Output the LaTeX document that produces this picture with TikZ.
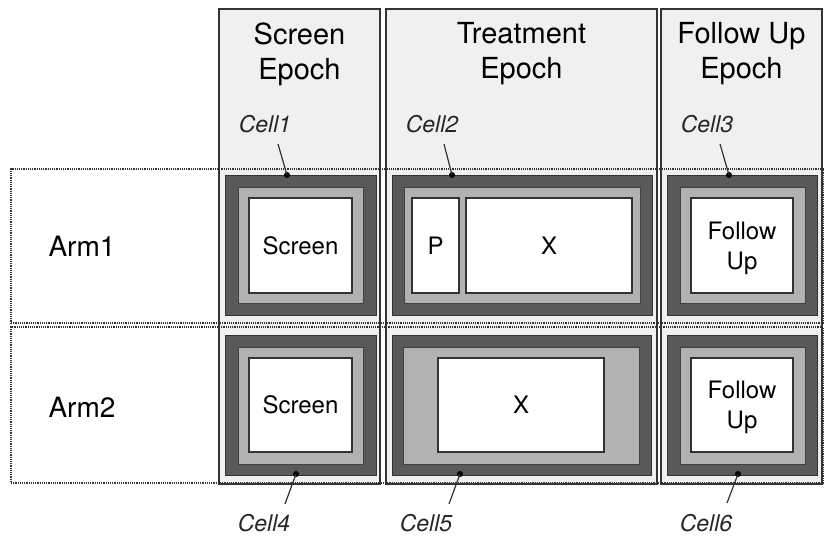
\documentclass[tikz,border=0pt]{standalone}
\usepackage{fontspec}
\setmainfont{TeX Gyre Heros}
\begin{document}
\begin{tikzpicture}[x=1pt,y=-1pt,
  epochbox/.style={draw=black!80,line width=1.3pt,fill=black!6,inner sep=0pt},
  armbox/.style={draw=black!80,line width=1.3pt,dash pattern=on 1.2pt off 1pt,inner sep=0pt},
  darkbox/.style={draw=black!80,line width=0.8pt,fill=black!65,inner sep=0pt},
  lightbox/.style={draw=black!75,line width=0.8pt,fill=black!30,inner sep=0pt},
  whitebox/.style={draw=black!80,line width=1.2pt,fill=white,inner sep=0pt,align=center,font=\fontsize{24}{30}\selectfont},
  boxtext/.style={inner sep=0pt,align=center,font=\fontsize{24}{30}\selectfont},
  title/.style={align=center,font=\fontsize{29}{35}\selectfont},
  armlabel/.style={font=\fontsize{28}{32}\selectfont,anchor=west},
  celllabel/.style={font=\fontsize{23}{28}\selectfont\itshape,text=black!85},
  dotmark/.style={circle,fill=black,inner sep=0pt,minimum size=6pt},
  leader/.style={draw=black!80,line width=1.2pt}
]
\useasboundingbox (0,0) rectangle (832,539);
% epochs
\node[epochbox,minimum width=161pt,minimum height=475pt] (ep1) at (299.5,246.5) {};
\node[epochbox,minimum width=271pt,minimum height=475pt] (ep2) at (521.5,246.5) {};
\node[epochbox,minimum width=161pt,minimum height=475pt] (ep3) at (741.5,246.5) {};
\node[title] (t1) at (299.5,54) {Screen\\Epoch};
\node[title] (t2) at (521.5,54) {Treatment\\Epoch};
\node[title] (t3) at (741.5,54) {Follow Up\\Epoch};
% arms
\node[armbox,minimum width=812pt,minimum height=154pt] (arm1) at (417,246) {};
\node[armbox,minimum width=812pt,minimum height=156pt] (arm2) at (417,405) {};
\node[armlabel] (a1) at (45,246) {Arm1};
\node[armlabel] (a2) at (45,407) {Arm2};
% cell 1
\node[darkbox,minimum width=151pt,minimum height=140pt] (c1) at (300.5,245) {};
\node[lightbox,minimum width=125pt,minimum height=116pt] (l1) at (300.5,245) {};
\node[whitebox,minimum width=103pt,minimum height=95pt] (w1) at (300.5,245.5) {Screen};
% cell 2
\node[darkbox,minimum width=260pt,minimum height=140pt] (c2) at (522,245) {};
\node[lightbox,minimum width=236pt,minimum height=116pt] (l2) at (522,245) {};
\node[whitebox,minimum width=47pt,minimum height=95pt] (w2p) at (435.5,245.5) {P};
\node[whitebox,minimum width=166pt,minimum height=95pt] (w2x) at (549,245.5) {X};
% cell 3
\node[darkbox,minimum width=150pt,minimum height=140pt] (c3) at (742,245) {};
\node[lightbox,minimum width=125pt,minimum height=116pt] (l3) at (742.5,245) {};
\node[whitebox,minimum width=102pt,minimum height=95pt] (w3) at (742,245.5) {};
\node[boxtext] (w3t) at (742,248) {Follow\\Up};
% cell 4
\node[darkbox,minimum width=151pt,minimum height=140pt] (c4) at (300.5,405) {};
\node[lightbox,minimum width=125pt,minimum height=117pt] (l4) at (300.5,405.5) {};
\node[whitebox,minimum width=103pt,minimum height=94pt] (w4) at (300.5,405) {Screen};
% cell 5
\node[darkbox,minimum width=259pt,minimum height=140pt] (c5) at (521.5,405) {};
\node[lightbox,minimum width=236pt,minimum height=117pt] (l5) at (521,405.5) {};
\node[whitebox,minimum width=166pt,minimum height=94pt] (w5) at (521,405) {X};
% cell 6
\node[darkbox,minimum width=150pt,minimum height=140pt] (c6) at (742,405) {};
\node[lightbox,minimum width=125pt,minimum height=117pt] (l6) at (742.5,405.5) {};
\node[whitebox,minimum width=102pt,minimum height=94pt] (w6) at (742,405) {};
\node[boxtext] (w6t) at (742,407.5) {Follow\\Up};
% labels
\node[celllabel] (n1) at (265,124) {Cell1};
\node[celllabel] (n2) at (432,124) {Cell2};
\node[celllabel] (n3) at (707,124) {Cell3};
\node[celllabel] (n4) at (264,523) {Cell4};
\node[celllabel] (n5) at (426,523) {Cell5};
\node[celllabel] (n6) at (706,523) {Cell6};
\coordinate (e1) at (278,144);
\coordinate (e2) at (444,144);
\coordinate (e3) at (720,144);
\coordinate (e4) at (285,504);
\coordinate (e5) at (449,504);
\coordinate (e6) at (727,503);
\node[dotmark] (d1) at (287,175) {};
\node[dotmark] (d2) at (452,175) {};
\node[dotmark] (d3) at (729,175) {};
\node[dotmark] (d4) at (296,474) {};
\node[dotmark] (d5) at (460,474) {};
\node[dotmark] (d6) at (738,474) {};
\draw[leader] (e1) -- (d1.center);
\draw[leader] (e2) -- (d2.center);
\draw[leader] (e3) -- (d3.center);
\draw[leader] (e4) -- (d4.center);
\draw[leader] (e5) -- (d5.center);
\draw[leader] (e6) -- (d6.center);
\end{tikzpicture}
\end{document}
